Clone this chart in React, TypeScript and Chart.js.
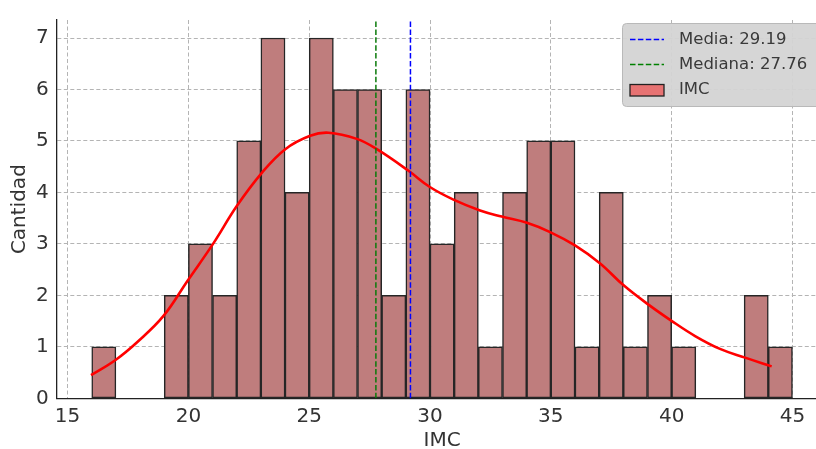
import React, { useEffect, useRef } from "react";
import { Chart, registerables } from "chart.js";

Chart.register(...registerables);

// Histogram bins (left edges, width 1) and counts
const binStarts = [16, 17, 18, 19, 20, 21, 22, 23, 24, 25, 26, 27, 28, 29, 30, 31, 32, 33, 34, 35, 36, 37, 38, 39, 40, 41, 42, 43, 44];
const binCounts = [1, 0, 0, 2, 3, 2, 5, 7, 4, 7, 6, 6, 2, 6, 3, 4, 1, 4, 5, 5, 1, 4, 1, 2, 1, 0, 0, 2, 1];
const binWidth = 1;

// KDE curve
const kdeX = [15.97, 16.97, 17.9, 18.97, 19.96, 21.02, 22.01, 23.04, 24.01, 25.04, 25.8, 26.97, 27.8, 29.11, 30.01, 30.97, 32.07, 32.97, 34.01, 34.97, 36.0, 37.04, 38.0, 39.04, 40.01, 40.97, 42.0, 43.04, 44.14];
const kdeY = [0.45, 0.74, 1.1, 1.6, 2.28, 3.0, 3.74, 4.38, 4.84, 5.1, 5.16, 5.04, 4.84, 4.42, 4.1, 3.86, 3.65, 3.53, 3.41, 3.23, 2.97, 2.62, 2.2, 1.82, 1.5, 1.21, 0.96, 0.79, 0.62];

const meanVal = 29.19;
const medianVal = 27.76;

const xTicks = [15, 20, 25, 30, 35, 40, 45];
const yTicks = [0, 1, 2, 3, 4, 5, 6, 7];
const xMin = 14.55;
const xMax = 46.45;
const yMin = 0;
const yMax = 7.35;

const legendLabels = [`Media: ${meanVal.toFixed(2)}`, `Mediana: ${medianVal.toFixed(2)}`, "IMC"];

const FONT = "'DejaVu Sans', sans-serif";
const BAR_FILL = "rgb(191,125,125)";
const BAR_EDGE = "#262626";

const legendPlugin = {
  id: "boxLegend",
  afterDraw(chart: any) {
    const ctx = chart.ctx as CanvasRenderingContext2D;
    ctx.save();
    const bx = 622.5, by = 23.5, bw = 260, bh = 83, r = 4;
    ctx.beginPath();
    ctx.moveTo(bx + r, by);
    ctx.lineTo(bx + bw - r, by);
    ctx.arcTo(bx + bw, by, bx + bw, by + r, r);
    ctx.lineTo(bx + bw, by + bh - r);
    ctx.arcTo(bx + bw, by + bh, bx + bw - r, by + bh, r);
    ctx.lineTo(bx + r, by + bh);
    ctx.arcTo(bx, by + bh, bx, by + bh - r, r);
    ctx.lineTo(bx, by + r);
    ctx.arcTo(bx, by, bx + r, by, r);
    ctx.closePath();
    ctx.fillStyle = "rgba(212,212,212,0.95)";
    ctx.fill();
    ctx.strokeStyle = "#b9b9b9";
    ctx.lineWidth = 1;
    ctx.stroke();

    const rows = [39.5, 64.5, 90];
    const hx0 = 630, hx1 = 664;
    ctx.setLineDash([5.5, 2.4]);
    ctx.lineWidth = 1.5;
    ctx.strokeStyle = "#0000ff";
    ctx.beginPath();
    ctx.moveTo(hx0, rows[0]);
    ctx.lineTo(hx1, rows[0]);
    ctx.stroke();
    ctx.strokeStyle = "#008000";
    ctx.beginPath();
    ctx.moveTo(hx0, rows[1]);
    ctx.lineTo(hx1, rows[1]);
    ctx.stroke();
    ctx.setLineDash([]);
    ctx.fillStyle = "rgb(231,115,115)";
    ctx.fillRect(hx0, rows[2] - 5.5, hx1 - hx0, 11.5);
    ctx.strokeStyle = "#222";
    ctx.lineWidth = 1.3;
    ctx.strokeRect(hx0, rows[2] - 5.5, hx1 - hx0, 11.5);

    ctx.fillStyle = "#3a3a3a";
    ctx.font = `16.5px ${FONT}`;
    ctx.textBaseline = "middle";
    ctx.textAlign = "left";
    legendLabels.forEach((t, i) => ctx.fillText(t, 679, rows[i]));
    ctx.restore();
  },
};

export default function App() {
  const ref = useRef<HTMLCanvasElement | null>(null);

  useEffect(() => {
    if (!ref.current) return;
    const bars = binStarts
      .map((s, i) => ({ x: s + binWidth / 2, y: binCounts[i] }))
      .filter((p) => p.y > 0);
    const kde = kdeX.map((x, i) => ({ x, y: kdeY[i] }));

    const gridCfg = {
      display: true,
      color: "#b4b4b4",
      lineWidth: 1,
      drawTicks: false,
      offset: false,
    };
    const borderCfg = { display: true, color: "#222", width: 1.3, dash: [4, 2.5] };

    const chart = new Chart(ref.current, {
      type: "bar",
      data: {
        datasets: [
          {
            type: "line" as const,
            label: legendLabels[0],
            data: [{ x: meanVal, y: yMin }, { x: meanVal, y: yMax }],
            borderColor: "#0000ff",
            borderWidth: 1.5,
            borderDash: [5.5, 2.4],
            pointRadius: 0,
            order: 0,
          },
          {
            type: "line" as const,
            label: legendLabels[1],
            data: [{ x: medianVal, y: yMin }, { x: medianVal, y: yMax }],
            borderColor: "#0a7a0a",
            borderWidth: 1.5,
            borderDash: [5.5, 2.4],
            pointRadius: 0,
            order: 0,
          },
          {
            type: "line" as const,
            label: "KDE",
            data: kde,
            borderColor: "#ff0000",
            borderWidth: 2.6,
            pointRadius: 0,
            tension: 0.4,
            order: 1,
          },
          {
            type: "bar" as const,
            label: legendLabels[2],
            data: bars,
            backgroundColor: BAR_FILL,
            borderColor: BAR_EDGE,
            borderWidth: 1.5,
            borderSkipped: false,
            barPercentage: 1,
            categoryPercentage: 1,
            order: 2,
          },
        ] as any,
      },
      options: {
        animation: false,
        responsive: false,
        devicePixelRatio: 1,
        events: [],
        layout: { padding: { left: 0, top: 15, right: 22.5, bottom: 0 } },
        plugins: {
          legend: { display: false },
          tooltip: { enabled: false },
        },
        scales: {
          x: {
            type: "linear",
            min: xMin,
            max: xMax,
            offset: false,
            grid: gridCfg as any,
            border: borderCfg as any,
            afterBuildTicks: (scale: any) => {
              scale.ticks = xTicks.map((v) => ({ value: v }));
            },
            afterFit: (scale: any) => {
              scale.height = 50.7;
            },
            ticks: {
              font: { family: FONT, size: 20 },
              color: "#333",
              padding: 6,
              maxRotation: 0,
              autoSkip: false,
              callback: (v: any) => String(v),
            },
            title: {
              display: true,
              text: "IMC",
              font: { family: FONT, size: 20, lineHeight: 1 },
              color: "#333",
              padding: { top: 0, bottom: -2 },
            },
          },
          y: {
            type: "linear",
            min: yMin,
            max: yMax,
            grid: gridCfg as any,
            border: borderCfg as any,
            afterBuildTicks: (scale: any) => {
              scale.ticks = yTicks.map((v) => ({ value: v }));
            },
            afterFit: (scale: any) => {
              scale.width = 56.7;
            },
            ticks: {
              font: { family: FONT, size: 20 },
              color: "#333",
              padding: 8,
              autoSkip: false,
              callback: (v: any) => String(v),
            },
            title: {
              display: true,
              text: "Cantidad",
              font: { family: FONT, size: 20, lineHeight: 1 },
              color: "#333",
              padding: { top: 10, bottom: 0 },
            },
          },
        },
      } as any,
      plugins: [legendPlugin],
    });
    return () => chart.destroy();
  }, []);

  return (
    <div
      style={{
        position: "fixed",
        left: 0,
        top: 0,
        width: 816,
        height: 449,
        overflow: "hidden",
        background: "#fff",
      }}
    >
      <canvas ref={ref} width={850} height={449} style={{ display: "block", width: 850, height: 449 }} />
    </div>
  );
}
